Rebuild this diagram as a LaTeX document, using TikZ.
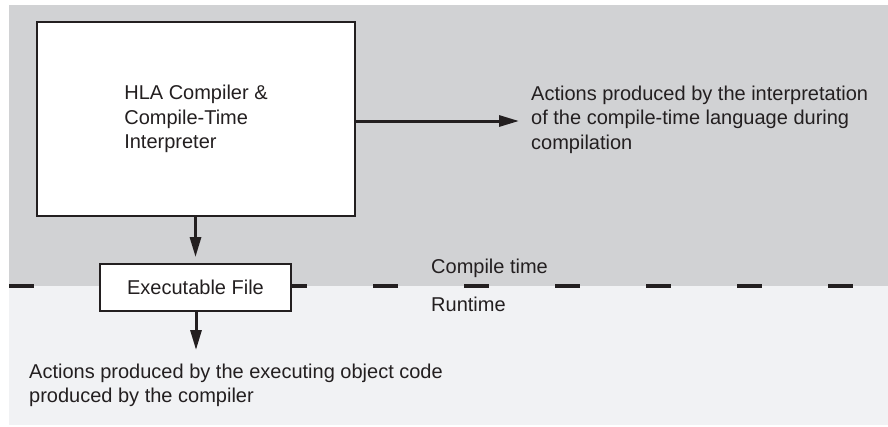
\documentclass[tikz,border=0pt]{standalone}
\usepackage{fontspec}
\setmainfont{Liberation Sans}
\usetikzlibrary{arrows.meta}
\definecolor{topgray}{HTML}{D1D2D4}
\definecolor{botgray}{HTML}{F1F2F4}
\definecolor{ink}{HTML}{231F20}
\tikzset{
  txt/.style={font=\fontsize{20}{24.5}\selectfont, text=ink, inner sep=0pt, align=left},
  bigbox/.style={draw=ink, fill=white, line width=1.6pt, minimum width=318pt, minimum height=194pt, inner sep=0pt},
  filebox/.style={draw=ink, fill=white, line width=1.9pt, minimum width=191pt, minimum height=47pt, inner sep=0pt},
  flow/.style={draw=ink, line width=3pt, -{Triangle[length=20pt,width=11pt]}},
  divider/.style={draw=ink, line width=4pt, dash pattern=on 25pt off 66pt}
}
\begin{document}
\begin{tikzpicture}[x=1pt,y=-1pt]
\useasboundingbox (0,0) rectangle (888,426);
\fill[topgray] (9,5) rectangle (888,286);
\fill[botgray] (9,286) rectangle (888,425);
\coordinate (dl) at (9,286);
\coordinate (dr) at (888,286);
\draw[divider] (dl) -- (dr);
\node[bigbox, txt] (comp) at (196,119) {HLA Compiler \&\\Compile-Time\\Interpreter};
\node[filebox, txt] (exe) at (195.5,287.5) {Executable File};
\node[txt, anchor=north west] (ctact) at (531,85.7) {Actions produced by the interpretation\\of the compile-time language during\\compilation};
\node[txt, anchor=north west] (rtact) at (29,363.7) {Actions produced by the executing object code\\produced by the compiler};
\node[txt, anchor=base west] (ctlab) at (431,273) {Compile time};
\node[txt, anchor=base west] (rtlab) at (431,311) {Runtime};
\coordinate (rtip) at (519,121);
\coordinate (dtip) at (196,350);
\draw[flow] (comp.east |- rtip) -- (rtip);
\draw[flow, shorten >=6pt] (comp.south -| exe.north) -- (exe.north);
\draw[flow] (exe.south -| dtip) -- (dtip);
\end{tikzpicture}
\end{document}
